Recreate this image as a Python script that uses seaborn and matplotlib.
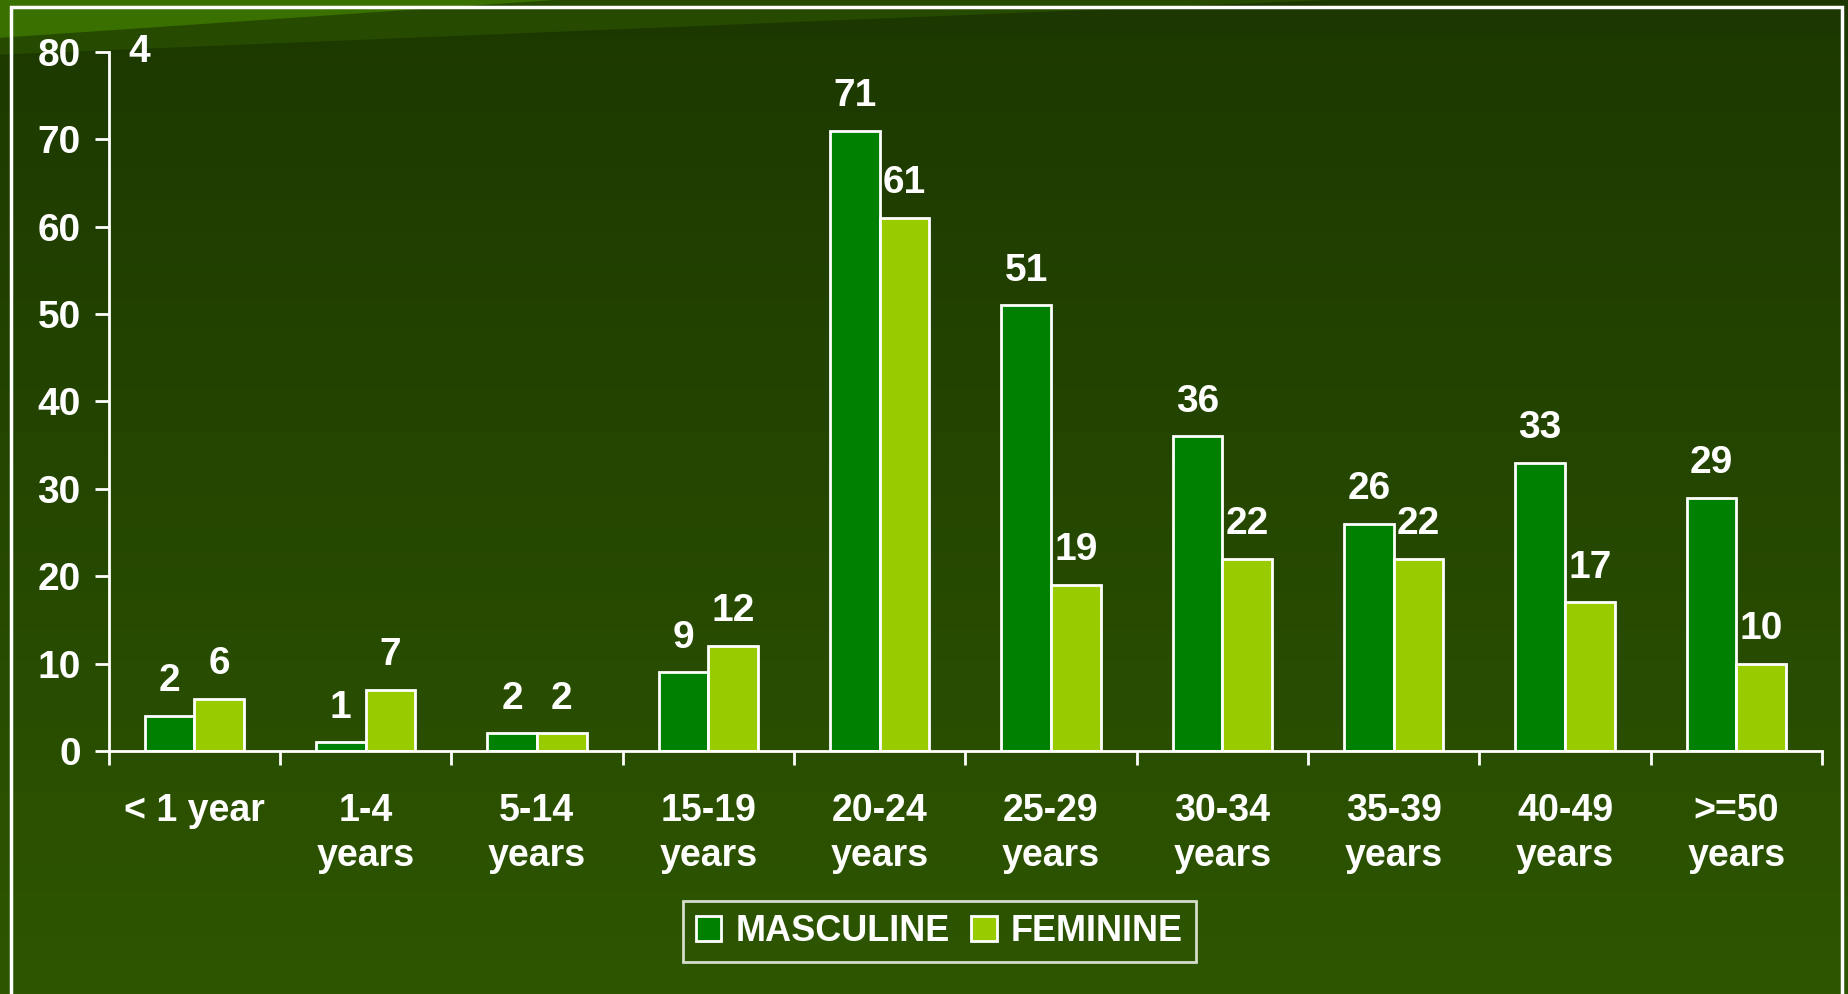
import numpy as np
import pandas as pd
import matplotlib
matplotlib.use("Agg")
import matplotlib.pyplot as plt
from matplotlib.patches import Polygon, Rectangle
from matplotlib.colors import LinearSegmentedColormap
import seaborn as sns

# data
categories = ["< 1 year", "1-4\nyears", "5-14\nyears", "15-19\nyears", "20-24\nyears",
              "25-29\nyears", "30-34\nyears", "35-39\nyears", "40-49\nyears", ">=50\nyears"]
masculine = [4, 1, 2, 9, 71, 51, 36, 26, 33, 29]
feminine = [6, 7, 2, 12, 61, 19, 22, 22, 17, 10]
masc_labels = ["2", "1", "2", "9", "71", "51", "36", "26", "33", "29"]
fem_labels = ["6", "7", "2", "12", "61", "19", "22", "22", "17", "10"]
stray_label = "4"
series = ["MASCULINE", "FEMININE"]
y_ticks = [0, 10, 20, 30, 40, 50, 60, 70, 80]

sns.set_theme(style="white")
plt.rcParams['font.family'] = ['Liberation Sans', 'DejaVu Sans']
plt.rcParams['font.weight'] = 'bold'

df = pd.DataFrame({
    "cat": categories * 2,
    "val": masculine + feminine,
    "sex": [series[0]] * len(categories) + [series[1]] * len(categories),
})

fig = plt.figure(figsize=(18.49, 9.94), dpi=100)

# background gradient + slide decoration
bg = fig.add_axes([0, 0, 1, 1], zorder=-10)
grad = np.linspace(0, 1, 256).reshape(-1, 1)
cmap = LinearSegmentedColormap.from_list("bg", ["#2e5600", "#1c3800"])
bg.imshow(grad, aspect="auto", cmap=cmap, extent=[0, 1, 0, 1], origin="lower")
bg.add_patch(Polygon([[0, 1], [0.72, 1], [0, 0.945]], closed=True, color="#264a00", lw=0))
bg.add_patch(Polygon([[0, 1], [0.30, 1], [0, 0.962]], closed=True, color="#3a7000", lw=0))
bg.add_patch(Rectangle((0.006, -0.02), 0.99, 1.013, fill=False, ec="white", lw=2.5))
bg.set_xlim(0, 1); bg.set_ylim(0, 1)
bg.axis("off")

ax = fig.add_axes([0.0587, 0.2445, 0.9267, 0.7032])
ax.patch.set_alpha(0)
sns.barplot(data=df, x="cat", y="val", hue="sex", palette=["#008000", "#99cc00"],
            width=0.58, edgecolor="white", linewidth=2, saturation=1, ax=ax)

ax.set_xlim(-0.5, len(categories) - 0.5)
ax.set_ylim(0, 80)
ax.set_yticks(y_ticks)
ax.set_xlabel("")
ax.set_ylabel("")

for s in ["top", "right"]:
    ax.spines[s].set_visible(False)
for s in ["left", "bottom"]:
    ax.spines[s].set_color("white")
    ax.spines[s].set_linewidth(2)

ax.tick_params(axis="y", colors="white", labelsize=28, length=10, width=2, direction="out", pad=10, left=True)
ax.tick_params(axis="x", which="major", colors="white", labelsize=27, length=0, pad=30, bottom=True)
ax.set_xticks(np.arange(-0.5, len(categories)), minor=True)
ax.tick_params(axis="x", which="minor", colors="white", length=10, width=2, direction="out", bottom=True)
for lab in ax.get_xticklabels() + ax.get_yticklabels():
    lab.set_fontweight("bold")
    lab.set_color("white")
for lab in ax.get_xticklabels():
    lab.set_linespacing(1.33)

for cont, labels in zip(ax.containers, [masc_labels, fem_labels]):
    ax.bar_label(cont, labels=labels, padding=12, color="white", fontsize=28, fontweight="bold")

ax.text(-0.32, 80, stray_label, color="white", fontsize=28, fontweight="bold", va="center", ha="center")

ax.get_legend().remove()
handles = [Rectangle((0, 0), 1, 1, fc=c, ec="white", lw=2) for c in ["#008000", "#99cc00"]]
leg = fig.legend(handles, series, loc="center", bbox_to_anchor=(0.508, 0.063), ncol=2,
                 frameon=True, fancybox=False, handlelength=0.7, handleheight=0.7,
                 handletextpad=0.4, columnspacing=0.6, borderpad=0.35,
                 prop={"size": 26, "weight": "bold"})
leg.get_frame().set_facecolor("none")
leg.get_frame().set_edgecolor("white")
leg.get_frame().set_linewidth(2)
for t in leg.get_texts():
    t.set_color("white")

fig.savefig("out.png", dpi=100)
